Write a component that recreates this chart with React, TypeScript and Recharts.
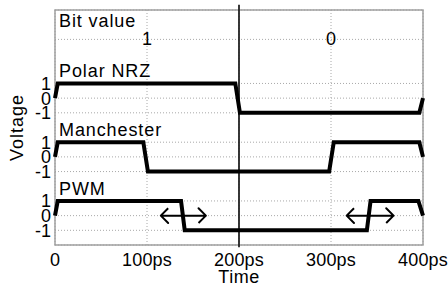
import { ComposedChart, Line, Scatter, XAxis, YAxis, CartesianGrid, ReferenceLine, ReferenceArea } from 'recharts';

// x axis (time, ps)
const xTicks = [0, 100, 200, 300, 400];
const xTickLabels = ['0', '100ps', '200ps', '300ps', '400ps'];

// y axis: three stacked traces (-1..1 each) plus the bit value row
const yTicks = [1, 2, 3, 5, 6, 7, 9, 10, 11, 14];
const yTickLabels = ['-1', '0', '1', '-1', '0', '1', '-1', '0', '1', ''];

const bitTimes = [100, 300];
const bitValues = ['1', '0'];

const nrzTimes = [0, 3, 196, 201, 396, 400];
const nrzLevels = [0, 1, 1, -1, -1, 0];

const manTimes = [0, 3, 96, 101, 298, 303, 396, 400];
const manLevels = [0, 1, 1, -1, -1, 1, 1, 0];

const pwmTimes = [0, 3, 137, 141, 339, 343, 395, 400];
const pwmLevels = [0, 1, 1, -1, -1, 1, 1, 0];

// double headed arrows on the PWM trace (start, end in ps)
const pwmArrows = [[115, 164], [317, 368]];

const traceNames = ['Polar NRZ', 'Manchester', 'PWM'];
const traceBases = [10, 6, 2];
const BIT_ROW = 14;

const FONT = '"Liberation Sans", Arial, Helvetica, sans-serif';

const trace = (ts: number[], vs: number[], base: number) =>
  ts.map((t, i) => ({ t, v: vs[i] + base }));

const HEAD_T = 8;
const HEAD_V = 0.5;
const arrowPts = (a: number, b: number, base: number) => [
  { t: a + HEAD_T, v: base + HEAD_V },
  { t: a, v: base },
  { t: a + HEAD_T, v: base - HEAD_V },
  { t: a, v: base },
  { t: b, v: base },
  { t: b - HEAD_T, v: base + HEAD_V },
  { t: b, v: base },
  { t: b - HEAD_T, v: base - HEAD_V },
];

const nameLabels = [
  ...traceNames.map((text, i) => ({ t: 0, v: traceBases[i] + 1.42, text, kind: 'name' })),
  { t: 0, v: BIT_ROW + 0.82, text: 'Bit value', kind: 'name' },
  ...bitTimes.map((t, i) => ({ t, v: BIT_ROW, text: bitValues[i], kind: 'bit' })),
];

const LabelShape = (p: any) => {
  const d = p.payload;
  if (d.kind === 'bit') {
    return (
      <text x={p.cx} y={p.cy} textAnchor="middle" dominantBaseline="central" fontSize={18} fill="#000">
        {d.text}
      </text>
    );
  }
  return (
    <text x={p.cx + 4} y={p.cy} fontSize={18} letterSpacing={0.9} fill="#000">
      {d.text}
    </text>
  );
};

const VoltageLabel = (p: any) => {
  const vb = p.viewBox;
  const x = vb.x + 17;
  const y = vb.y + vb.height / 2;
  return (
    <text x={x} y={y} transform={`rotate(-90, ${x}, ${y})`} textAnchor="middle" dominantBaseline="central" fontSize={18} letterSpacing={1} fill="#000">
      Voltage
    </text>
  );
};

export default function App() {
  return (
    <div style={{ position: 'absolute', left: 0, top: 0, width: 448, height: 284, background: '#fff', fontFamily: FONT }}>
      <ComposedChart width={448} height={284} margin={{ top: 10, right: 25, left: 0, bottom: 0 }}>
        <CartesianGrid stroke="#a8a8a8" strokeDasharray="1 2" />
        <XAxis
          type="number"
          dataKey="t"
          domain={[0, 400]}
          ticks={xTicks}
          tickFormatter={(t: number) => xTickLabels[xTicks.indexOf(t)]}
          interval={0}
          axisLine={false}
          tickLine={false}
          tickSize={0}
          tickMargin={8}
          height={39}
          tick={{ fill: '#000', fontSize: 18, letterSpacing: 0.2 }}
          label={{ value: 'Time', position: 'insideBottom', offset: 1, fill: '#000', fontSize: 18, letterSpacing: 0.5 }}
        />
        <YAxis
          type="number"
          dataKey="v"
          domain={[0, 16]}
          ticks={yTicks}
          tickFormatter={(v: number) => yTickLabels[yTicks.indexOf(v)]}
          interval={0}
          axisLine={false}
          tickLine={false}
          tickSize={0}
          tickMargin={4}
          width={55}
          tick={{ fill: '#000', fontSize: 18 }}
          label={VoltageLabel}
        />
        <ReferenceArea x1={0} x2={400} y1={0} y2={16} fill="none" stroke="#a0a0a0" strokeWidth={1.5} />
        <ReferenceLine
          segment={[{ x: 200, y: -0.15 }, { x: 200, y: 16.35 }]}
          ifOverflow="visible"
          stroke="#222"
          strokeWidth={1.8}
        />
        <Line data={trace(nrzTimes, nrzLevels, traceBases[0])} dataKey="v" type="linear" stroke="#000" strokeWidth={4} dot={false} isAnimationActive={false} />
        <Line data={trace(manTimes, manLevels, traceBases[1])} dataKey="v" type="linear" stroke="#000" strokeWidth={4} dot={false} isAnimationActive={false} />
        <Line data={trace(pwmTimes, pwmLevels, traceBases[2])} dataKey="v" type="linear" stroke="#000" strokeWidth={4} dot={false} isAnimationActive={false} />
        {pwmArrows.map(([a, b], i) => (
          <Line key={i} data={arrowPts(a, b, traceBases[2])} dataKey="v" type="linear" stroke="#000" strokeWidth={2} strokeLinejoin="round" dot={false} isAnimationActive={false} />
        ))}
        <Scatter data={nameLabels} dataKey="v" shape={LabelShape} isAnimationActive={false} />
      </ComposedChart>
    </div>
  );
}
